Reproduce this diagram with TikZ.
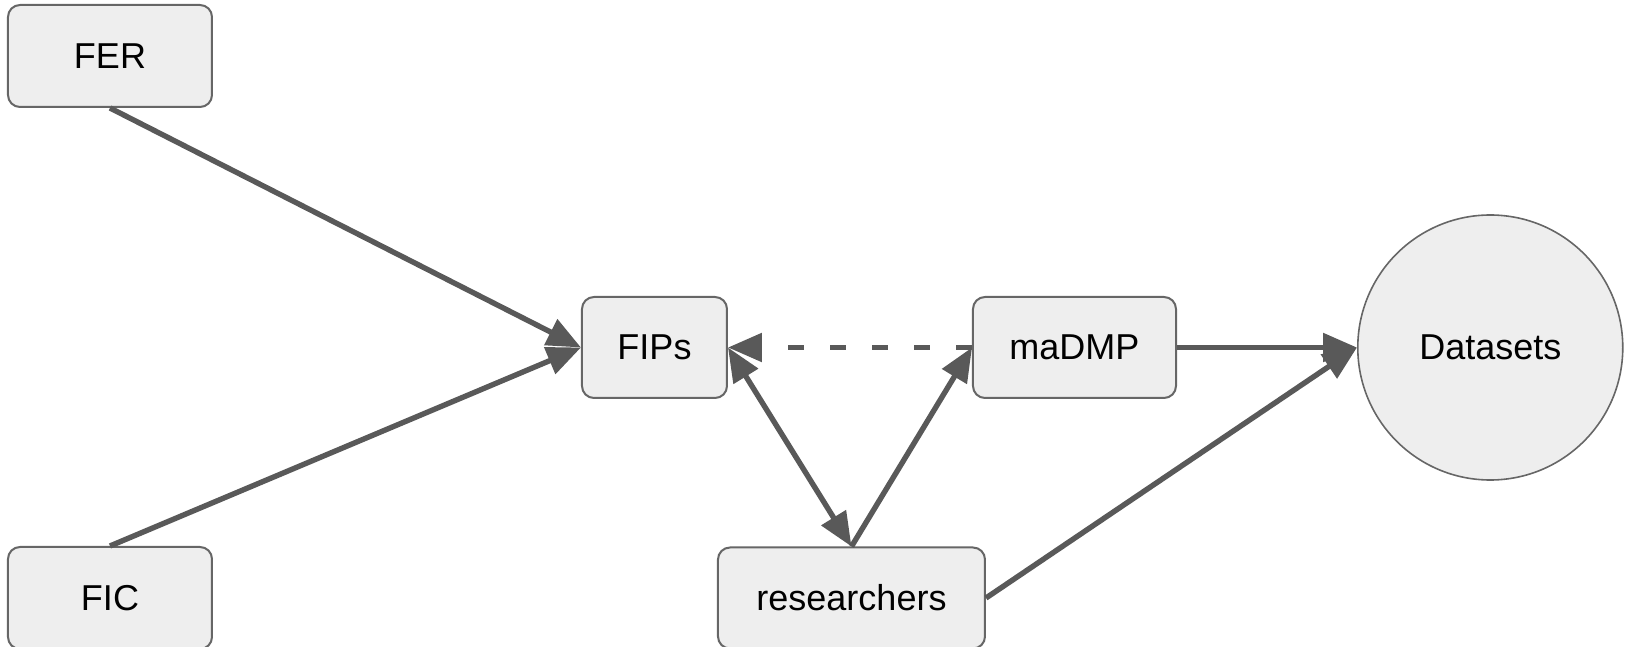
\documentclass[tikz,border=0pt]{standalone}
\usepackage{fontspec}
\setmainfont{Liberation Sans}
\usetikzlibrary{positioning, arrows.meta}
\definecolor{linegray}{HTML}{595959}
\definecolor{boxgray}{HTML}{EEEEEE}
\definecolor{edgegray}{HTML}{666666}

\begin{document}
\begin{tikzpicture}[
  >={Triangle[length=17pt, width=14pt]},
  box/.style={draw=edgegray, line width=1pt, fill=boxgray, rounded corners=6pt, font=\fontsize{18}{22}\selectfont, inner sep=0pt, minimum height=50.5pt},
  store/.style={draw=edgegray, line width=0.8pt, fill=boxgray, circle, font=\fontsize{18}{22}\selectfont, inner sep=0pt, minimum size=132.5pt},
  arrow/.style={->, line width=2.7pt, draw=linegray},
  twoway/.style={<->, line width=2.7pt, draw=linegray}]

  \useasboundingbox (-327.25pt,-149.75pt) rectangle (487.25pt,173.75pt);

  \node[box, minimum width=72.5pt] (fips) at (0,0) {FIPs};
  \node[box, minimum width=101.5pt, right=122pt of fips] (madmp) {maDMP};
  \node[store, right=90pt of madmp] (data) {Datasets};
  \node[box, minimum width=102pt, minimum height=51pt] (fer) at (-272.25pt,145.75pt) {FER};
  \node[box, minimum width=102pt, minimum height=51pt, below=219pt of fer] (fic) {FIC};
  \node[box, minimum width=133.5pt, right=252pt of fic] (res) {researchers};

  \draw[arrow] (fer.south) -- (fips.west);
  \draw[arrow] (fic.north) -- (fips.west);
  \draw[arrow, dash pattern=on 8pt off 13pt] (madmp.west) -- (fips.east);
  \draw[twoway] (fips.east) -- (res.north);
  \draw[arrow] (res.north) -- (madmp.west);
  \draw[arrow] (madmp.east) -- (data.west);
  \draw[arrow] (res.east) -- (data.west);
\end{tikzpicture}
\end{document}
